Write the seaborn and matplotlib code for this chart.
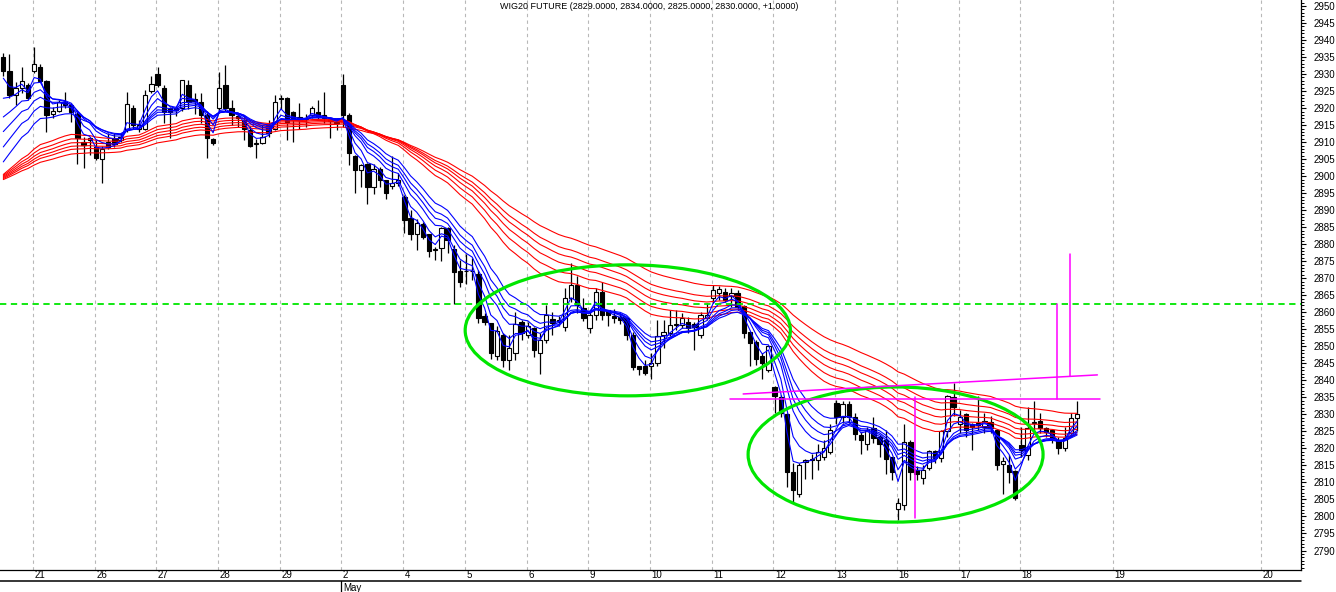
import numpy as np
import pandas as pd
import matplotlib
matplotlib.use("Agg")
import matplotlib.pyplot as plt
import matplotlib.transforms as mtransforms
from matplotlib.lines import Line2D
from matplotlib.patches import Ellipse
from matplotlib.ticker import MultipleLocator, FixedLocator
import seaborn as sns

# bar data (intraday bars, 10 per session)
opens = [2935.1, 2930.9, 2924.0, 2925.8, 2926.8, 2931.0, 2932.0, 2928.0, 2918.2, 2919.2,
         2921.9, 2920.9, 2918.4, 2910.1, 2910.6, 2908.6, 2904.9, 2910.1, 2911.1, 2910.6,
         2913.7, 2919.9, 2914.0, 2914.0, 2925.1, 2930.0, 2925.8, 2919.9, 2919.9, 2919.9,
         2926.8, 2922.6, 2921.9, 2918.0, 2910.8, 2919.9, 2926.8, 2919.9, 2917.6, 2916.5,
         2913.5, 2909.6, 2909.8, 2915.0, 2914.0, 2922.9, 2922.9, 2918.9, 2917.5, 2916.7,
         2918.0, 2918.9, 2918.0, 2916.7, 2916.0, 2926.8, 2918.0, 2905.9, 2901.8, 2903.7,
         2896.9, 2902.0, 2899.0, 2897.1, 2898.0, 2893.9, 2887.8, 2883.1, 2886.0, 2883.0,
         2878.4, 2879.0, 2884.9, 2878.7, 2872.2, 2872.2, 2872.1, 2871.3, 2858.8, 2856.9,
         2847.2, 2853.3, 2846.0, 2847.9, 2857.2, 2853.3, 2855.3, 2848.1, 2852.0, 2857.9,
         2857.3, 2855.8, 2864.1, 2868.0, 2861.2, 2855.3, 2859.2, 2866.1, 2860.7, 2858.9,
         2858.5, 2858.2, 2853.3, 2844.2, 2844.2, 2844.2, 2845.2, 2853.3, 2854.0, 2856.3,
         2856.3, 2857.2, 2856.7, 2853.3, 2858.2, 2864.1, 2865.7, 2866.1, 2864.7, 2865.8,
         2861.8, 2854.3, 2851.4, 2847.1, 2843.0, 2838.1, 2835.2, 2830.1, 2813.2, 2806.7,
         2816.0, 2816.5, 2816.5, 2817.5, 2819.0, 2833.3, 2829.1, 2833.0, 2829.1, 2823.9,
         2821.4, 2825.9, 2823.4, 2822.4, 2817.5, 2802.1, 2803.4, 2821.9, 2813.7, 2811.2,
         2814.2, 2819.1, 2817.1, 2825.0, 2835.0, 2827.2, 2830.1, 2827.3, 2827.4, 2826.3,
         2827.8, 2825.4, 2815.4, 2815.1, 2813.4, 2821.0, 2818.1, 2827.4, 2828.1, 2825.9,
         2825.4, 2822.4, 2820.1, 2824.6, 2829.0]
highs = [2936.3, 2935.9, 2927.8, 2932.0, 2927.3, 2938.1, 2933.0, 2928.4, 2920.4, 2922.4,
         2924.8, 2921.4, 2919.1, 2911.6, 2911.6, 2910.6, 2908.8, 2912.6, 2912.6, 2912.6,
         2924.8, 2920.9, 2916.5, 2925.3, 2929.4, 2932.0, 2926.8, 2920.4, 2920.6, 2928.4,
         2928.4, 2924.3, 2924.3, 2919.1, 2911.1, 2930.7, 2932.6, 2922.4, 2918.4, 2918.0,
         2914.7, 2910.8, 2915.0, 2916.5, 2923.8, 2923.8, 2923.3, 2919.1, 2921.4, 2918.4,
         2920.6, 2922.4, 2924.8, 2917.0, 2916.2, 2930.0, 2918.6, 2906.2, 2903.7, 2903.9,
         2903.7, 2902.7, 2899.0, 2905.9, 2900.8, 2894.4, 2890.0, 2887.5, 2886.6, 2883.1,
         2879.2, 2885.1, 2885.1, 2879.7, 2875.4, 2877.2, 2876.1, 2872.4, 2859.7, 2856.9,
         2855.9, 2854.0, 2853.3, 2860.2, 2857.7, 2857.2, 2855.8, 2853.8, 2862.1, 2860.2,
         2858.8, 2867.0, 2874.5, 2870.6, 2864.1, 2860.2, 2867.0, 2869.0, 2860.8, 2860.9,
         2859.7, 2858.7, 2854.3, 2844.2, 2846.0, 2848.1, 2857.7, 2857.7, 2860.7, 2860.7,
         2859.7, 2858.7, 2857.2, 2860.2, 2862.6, 2868.0, 2867.6, 2867.0, 2867.1, 2866.6,
         2862.1, 2854.3, 2851.8, 2847.9, 2850.4, 2838.2, 2835.7, 2830.3, 2815.6, 2815.6,
         2817.0, 2818.5, 2821.4, 2822.4, 2827.3, 2834.3, 2834.0, 2834.0, 2830.3, 2824.9,
         2826.3, 2829.3, 2823.9, 2825.4, 2817.6, 2805.4, 2827.3, 2822.4, 2814.7, 2815.2,
         2819.6, 2819.6, 2825.5, 2835.7, 2839.1, 2831.2, 2830.3, 2827.4, 2835.3, 2830.3,
         2829.5, 2825.6, 2817.5, 2818.0, 2813.6, 2826.4, 2832.3, 2834.0, 2830.3, 2826.3,
         2825.5, 2823.4, 2826.3, 2830.3, 2834.0]
lows = [2929.4, 2923.0, 2920.9, 2924.3, 2922.4, 2930.4, 2927.8, 2913.0, 2917.0, 2918.9,
        2919.9, 2916.0, 2903.7, 2902.3, 2906.2, 2904.7, 2898.0, 2908.1, 2908.6, 2910.1,
        2913.0, 2914.0, 2913.0, 2913.5, 2924.3, 2926.3, 2915.5, 2911.1, 2917.6, 2919.1,
        2919.6, 2918.4, 2915.7, 2905.2, 2909.3, 2918.6, 2919.1, 2915.0, 2914.5, 2910.6,
        2908.6, 2905.2, 2909.6, 2911.6, 2913.5, 2919.6, 2910.6, 2910.1, 2914.0, 2914.5,
        2917.2, 2916.7, 2915.7, 2911.1, 2913.7, 2914.5, 2903.2, 2895.1, 2896.9, 2891.9,
        2894.9, 2896.9, 2893.4, 2896.1, 2897.1, 2883.3, 2881.2, 2878.2, 2881.4, 2876.2,
        2875.3, 2875.1, 2877.3, 2862.4, 2867.3, 2868.3, 2869.6, 2856.8, 2856.2, 2846.4,
        2846.0, 2844.0, 2843.0, 2846.0, 2851.9, 2852.3, 2846.9, 2842.0, 2850.9, 2853.3,
        2855.9, 2854.4, 2863.1, 2859.8, 2857.3, 2853.9, 2857.8, 2857.8, 2855.9, 2856.8,
        2856.7, 2851.9, 2843.0, 2841.5, 2841.5, 2840.3, 2844.1, 2849.4, 2852.9, 2854.9,
        2855.3, 2853.8, 2848.9, 2852.3, 2857.8, 2862.7, 2863.7, 2863.1, 2861.7, 2860.7,
        2852.3, 2844.2, 2844.5, 2840.3, 2842.5, 2830.4, 2829.3, 2808.8, 2803.9, 2805.8,
        2811.1, 2811.1, 2813.6, 2816.5, 2818.5, 2827.3, 2827.4, 2827.4, 2822.4, 2818.5,
        2819.6, 2821.5, 2817.5, 2812.6, 2810.7, 2799.0, 2801.9, 2810.7, 2810.7, 2809.6,
        2813.7, 2815.7, 2816.1, 2823.5, 2829.4, 2824.5, 2823.5, 2819.6, 2825.5, 2824.5,
        2824.5, 2813.7, 2806.7, 2809.8, 2804.9, 2817.6, 2816.6, 2824.5, 2824.5, 2823.5,
        2821.6, 2818.5, 2819.1, 2823.5, 2825.0]
closes = [2931.0, 2923.8, 2925.8, 2928.0, 2922.9, 2933.0, 2928.0, 2918.0, 2919.2, 2921.9,
          2920.9, 2918.9, 2911.1, 2909.1, 2911.1, 2905.2, 2908.1, 2908.6, 2909.6, 2911.6,
          2921.1, 2915.0, 2915.0, 2924.0, 2927.1, 2926.8, 2918.9, 2918.9, 2919.4, 2928.2,
          2921.9, 2922.1, 2918.0, 2911.1, 2909.8, 2925.8, 2919.9, 2918.0, 2917.2, 2914.0,
          2908.8, 2909.8, 2911.4, 2912.7, 2921.9, 2922.6, 2916.0, 2917.0, 2916.5, 2917.0,
          2919.9, 2917.5, 2917.0, 2916.2, 2915.5, 2918.0, 2906.9, 2901.8, 2903.2, 2896.9,
          2902.0, 2899.0, 2895.1, 2898.0, 2898.8, 2887.2, 2883.1, 2886.1, 2882.0, 2878.1,
          2878.5, 2884.9, 2881.3, 2871.9, 2869.0, 2872.0, 2872.2, 2858.2, 2857.2, 2848.1,
          2854.4, 2846.0, 2849.4, 2856.7, 2853.8, 2856.0, 2848.9, 2851.8, 2859.2, 2856.9,
          2857.8, 2864.1, 2868.0, 2862.1, 2858.2, 2859.2, 2866.1, 2859.2, 2859.2, 2858.2,
          2857.7, 2853.3, 2844.0, 2843.2, 2842.2, 2845.0, 2853.0, 2854.3, 2856.3, 2856.7,
          2858.2, 2855.3, 2855.8, 2859.2, 2859.2, 2866.6, 2866.7, 2863.6, 2865.7, 2861.7,
          2854.0, 2850.9, 2846.2, 2845.0, 2850.1, 2835.4, 2830.3, 2813.2, 2807.7, 2815.1,
          2816.5, 2817.0, 2819.0, 2820.0, 2825.4, 2829.2, 2833.0, 2829.1, 2824.2, 2822.4,
          2825.4, 2823.2, 2821.4, 2817.0, 2813.1, 2804.1, 2821.9, 2813.1, 2812.5, 2813.7,
          2819.1, 2817.1, 2825.2, 2835.4, 2832.3, 2829.1, 2825.4, 2826.4, 2826.9, 2828.1,
          2825.9, 2815.1, 2816.4, 2813.1, 2805.4, 2819.6, 2825.9, 2827.9, 2825.9, 2824.7,
          2823.2, 2820.0, 2823.0, 2829.0, 2830.0]

# session labels and the bar where each session starts
day_labels = ['21', '26', '27', '28', '29', '2', '4', '5', '6', '9', '10', '11', '12',
              '13', '16', '17', '18', '19', '20']
day_start_bar = [5, 15, 25, 35, 45, 55, 65, 75, 85, 95, 105, 115, 125, 135, 145, 155,
                 165, 180, 204]
month_label = 'May'
month_day = '2'

# Guppy multiple moving averages, EMA values at the first visible bar
short_periods = [3, 5, 8, 10, 12, 15]
short_start = [2928.8, 2922.9, 2917.4, 2913.1, 2908.6, 2904.2]
long_periods = [30, 35, 40, 45, 50, 60]
long_start = [2900.5, 2900.2, 2899.9, 2899.6, 2899.3, 2899.0]

# hand drawn annotations
level_line = 2862.5
channel_zone_1 = (101.2, 2854.7, 52.7, 38.5)   # center bar, center price, width, height
channel_zone_2 = (144.6, 2818.2, 47.8, 39.7)
neck_flat = (117.8, 177.7, 2834.6)
neck_slope = (119.9, 2836.0, 177.3, 2841.6)
target_lines = [(170.8, 2834.6, 2862.4), (172.8, 2841.2, 2877.1)]
marker_line = (147.8, 2799.6, 2835.0)


def ema(values, period, start):
    alpha = 2.0 / (period + 1)
    out = [start]
    for v in values[1:]:
        out.append(out[-1] + alpha * (v - out[-1]))
    return out


bars = np.arange(len(closes))
rows = []
for p, s in zip(long_periods, long_start):
    rows.append(pd.DataFrame({'bar': bars, 'value': ema(closes, p, s), 'line': f'L{p}'}))
for p, s in zip(short_periods, short_start):
    rows.append(pd.DataFrame({'bar': bars, 'value': ema(closes, p, s), 'line': f'S{p}'}))
gmma = pd.concat(rows, ignore_index=True)
palette = {f'L{p}': '#ff0000' for p in long_periods}
palette.update({f'S{p}': '#0000ff' for p in short_periods})
hue_order = [f'L{p}' for p in long_periods] + [f'S{p}' for p in short_periods]

sns.set_style('white')
plt.rcParams['font.family'] = ['Liberation Sans', 'DejaVu Sans']

W, H = 1336, 592
fig = plt.figure(figsize=(W / 100, H / 100), dpi=100)
ax_h = 570
ax = fig.add_axes([0, (H - ax_h) / H, 1301 / W, ax_h / H])

y_lo, y_hi = 2784.27, 2951.77
ax.set_xlim(-0.535, 210.3)

# session separators
tick_x = [b - 0.2 for b in day_start_bar]
for x in tick_x:
    ax.axvline(x, color='#b8b8b8', lw=0.8, ls=(0, (3, 3)), zorder=0)

# candles
o = np.array(opens)
c = np.array(closes)
up = c >= o
ax.vlines(bars, lows, highs, color='black', lw=0.9, zorder=1)
ax.bar(bars, np.abs(c - o), bottom=np.minimum(o, c), width=0.7,
       color=np.where(up, 'white', 'black'), edgecolor='black', linewidth=0.8, zorder=1.5)

# moving average ribbons
sns.lineplot(data=gmma, x='bar', y='value', hue='line', hue_order=hue_order,
             palette=palette, legend=False, errorbar=None, linewidth=0.8, ax=ax, zorder=2)

# annotations
green = '#00e600'
ax.axhline(level_line, color=green, lw=1.3, ls=(0, (3.5, 2.5)), zorder=3)
for cx, cy, w, h in (channel_zone_1, channel_zone_2):
    ax.add_patch(Ellipse((cx, cy), w, h, fill=False, edgecolor=green, lw=2.3, zorder=4))
mag = '#ff00ff'
ax.plot([neck_flat[0], neck_flat[1]], [neck_flat[2], neck_flat[2]], color=mag, lw=1.1, zorder=4)
ax.plot([neck_slope[0], neck_slope[2]], [neck_slope[1], neck_slope[3]], color=mag, lw=1.1, zorder=4)
for x, y0, y1 in target_lines:
    ax.plot([x, x], [y0, y1], color=mag, lw=1.1, zorder=4)
ax.plot([marker_line[0]] * 2, [marker_line[1], marker_line[2]], color=mag, lw=1.1, zorder=4)

# axes styling
for side in ['left', 'top']:
    ax.spines[side].set_visible(False)
for side in ['right', 'bottom']:
    ax.spines[side].set_color('black')
    ax.spines[side].set_linewidth(0.9)
ax.set_xlabel('')
ax.set_ylabel('')

ax.yaxis.tick_right()
ax.set_yticks(np.arange(2790, 2951, 5))
ax.yaxis.set_minor_locator(MultipleLocator(1))
ax.tick_params(axis='y', which='major', direction='out', length=3.8, width=0.8,
               labelsize=7, pad=5, colors='black')
ax.tick_params(axis='y', which='minor', direction='out', length=2, width=0.7, colors='black')
ax.set_ylim(y_lo, y_hi)

ax.xaxis.set_major_locator(FixedLocator(tick_x))
ax.xaxis.set_minor_locator(FixedLocator(bars.tolist() + list(range(175, 211))))
ax.tick_params(axis='x', which='major', direction='out', length=8, width=0.9,
               labelbottom=False, colors='black')
ax.tick_params(axis='x', which='minor', direction='out', length=2.2, width=0.7, colors='black')

trans = mtransforms.blended_transform_factory(ax.transData, ax.transAxes)
band = 11 / ax_h
for x, lab in zip(tick_x, day_labels):
    ax.text(x + 0.25, -5.5 / ax_h, lab, transform=trans, ha='left', va='center',
            fontsize=7, color='black', clip_on=False)
ax.add_line(Line2D([0, 1], [-band, -band], transform=ax.transAxes, color='black',
                   lw=1.1, clip_on=False))
mx = tick_x[day_labels.index(month_day)]
ax.add_line(Line2D([mx, mx], [-band, -22 / ax_h], transform=trans, color='black',
                   lw=0.9, clip_on=False))
ax.text(mx + 0.25, -18 / ax_h, month_label, transform=trans, ha='left', va='center',
        fontsize=7, color='black', clip_on=False)

title = 'WIG20 FUTURE ({:.4f}, {:.4f}, {:.4f}, {:.4f}, {:+.4f})'.format(
    opens[-1], highs[-1], lows[-1], closes[-1], closes[-1] - closes[-2])
fig.text(649 / W, 1 - 6.5 / H, title, ha='center', va='center', fontsize=6.5, color='black')

fig.savefig('out.png', dpi=100)
